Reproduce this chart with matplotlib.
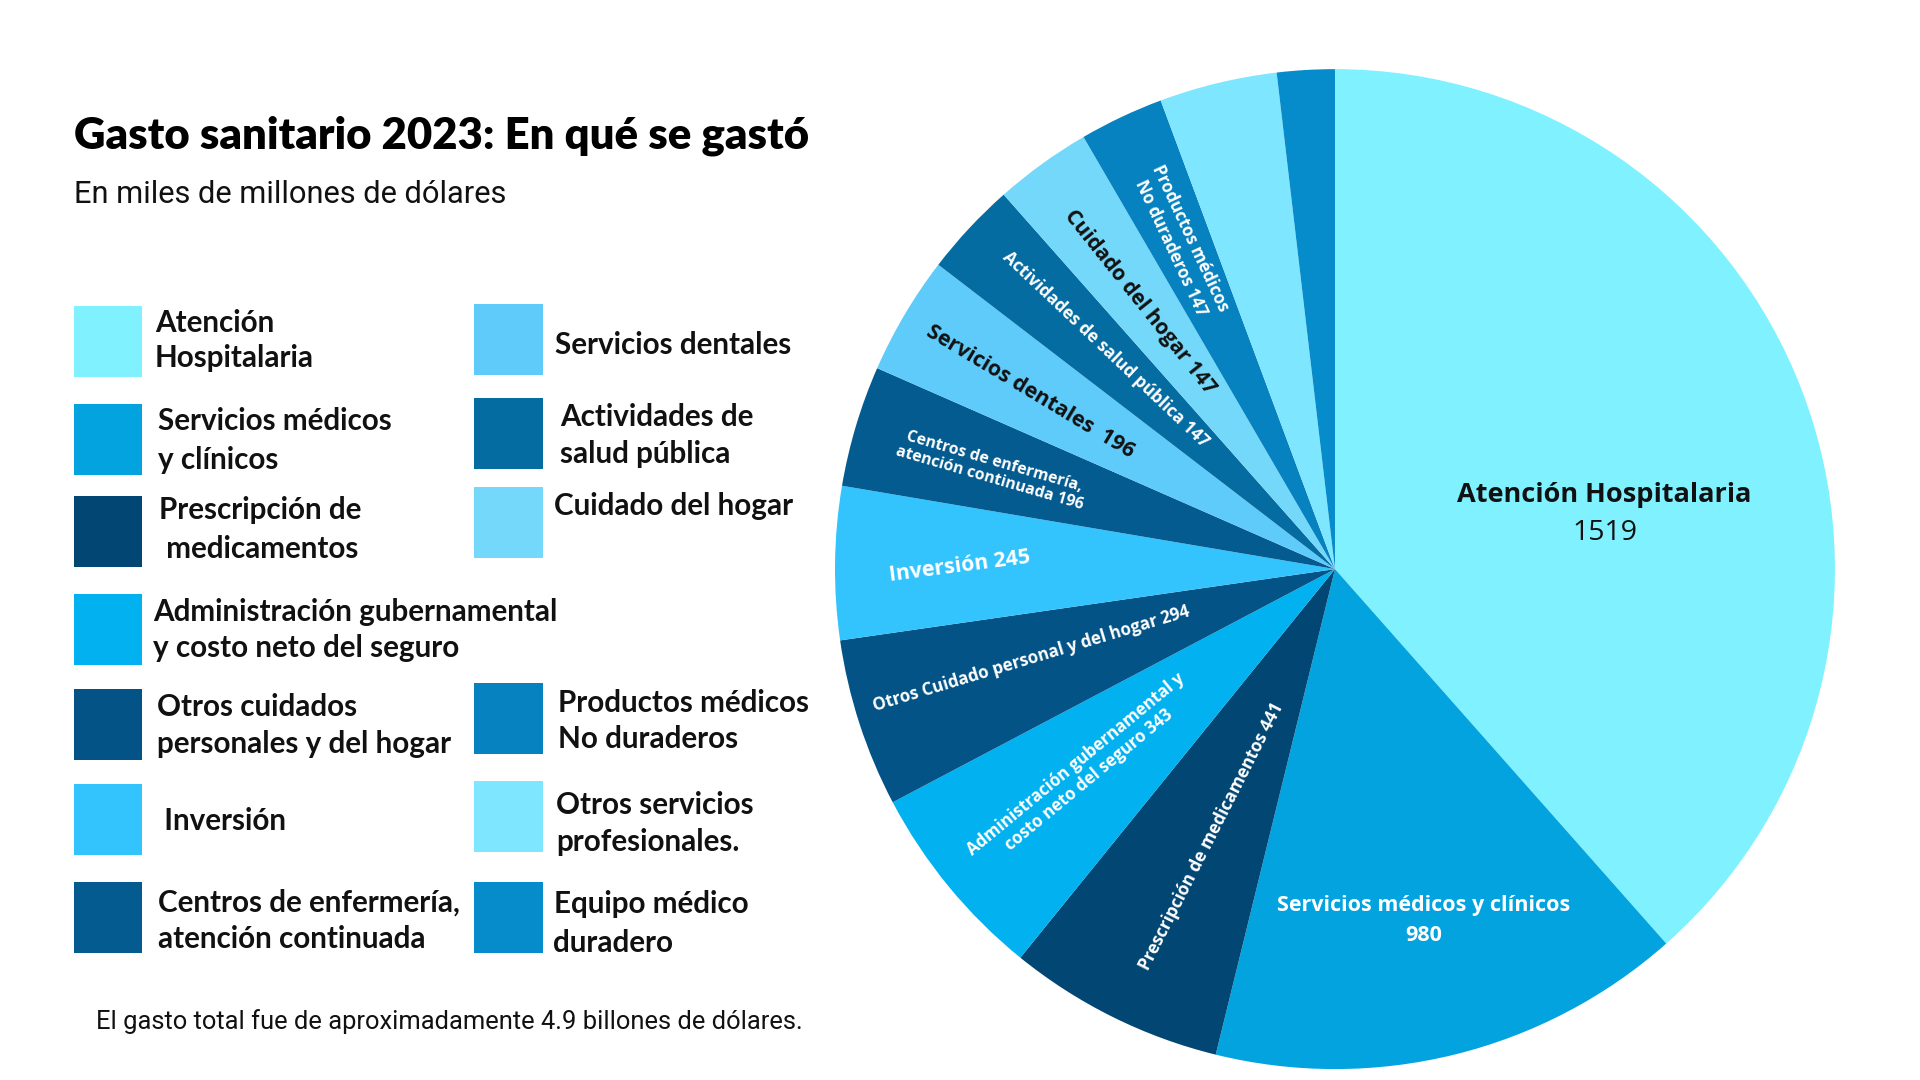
import matplotlib
matplotlib.use("Agg")
import matplotlib.pyplot as plt
from matplotlib.patches import Rectangle

# categorias na ordem do pie (horario a partir do topo)
categorias = ["Atención Hospitalaria", "Servicios médicos y clínicos",
              "Prescripción de medicamentos", "Administración gubernamental",
              "Otros cuidados personales", "Inversión", "Centros de enfermería",
              "Servicios dentales", "Actividades de salud pública",
              "Cuidado del hogar", "Productos médicos no duraderos",
              "Otros servicios profesionales", "Equipo médico duradero"]
valores = [1519, 980, 441, 343, 294, 245, 196, 196, 147, 147, 147, None, None]
# tamanho das fatias em graus (o original nao e proporcional)
fatias_graus = [138.5, 55.3, 25.2, 23.2, 19.6, 17.8, 14.1, 13.8, 11.0, 11.3, 9.8, 13.7, 6.7]
cores = ["#7ff1ff", "#03a3e0", "#024673", "#02b2f0", "#035386", "#33c3fd",
         "#045b8f", "#5ecbfb", "#056ca2", "#74d8fb", "#0582bf", "#7fe6ff", "#068bcb"]

titulo = "Gasto sanitario 2023: En qué se gastó"
subtitulo = "En miles de millones de dólares"
nota = "El gasto total fue de aproximadamente 4.9 billones de dólares."

# legenda: (indice da categoria, linhas)
leg_esq = [(0, ["Atención", "Hospitalaria"]),
           (1, ["Servicios médicos", "y clínicos"]),
           (2, ["Prescripción de", " medicamentos"]),
           (3, ["Administración gubernamental", "y costo neto del seguro"]),
           (4, ["Otros cuidados", "personales y del hogar"]),
           (5, [" Inversión"]),
           (6, ["Centros de enfermería,", "atención continuada"])]
leg_dir = [(7, ["Servicios dentales"]),
           (8, ["Actividades de", "salud pública"]),
           (9, ["Cuidado del hogar"]),
           (10, ["Productos médicos", "No duraderos"]),
           (11, ["Otros servicios", "profesionales."]),
           (12, ["Equipo médico", "duradero"])]

FONTE_LEG = ["Lato", "DejaVu Sans"]
FONTE_PIE = ["Open Sans", "DejaVu Sans"]
FONTE_TXT = ["Roboto", "DejaVu Sans"]

fig = plt.figure(figsize=(19.2, 10.8), dpi=100)

# ---- pie ----
ax = fig.add_axes([0.4349, 0.0101, 0.5208, 0.9259])
ax.pie(fatias_graus, colors=cores, startangle=90, counterclock=False,
       radius=1.0, wedgeprops=dict(linewidth=0))
ax.set_xlim(-1, 1)
ax.set_ylim(-1, 1)
ax.set_aspect("equal")
ax.axis("off")

def rot_txt(x, y, s, rot, size, cor="white", peso="bold", ls=1.15):
    ax.text(x, y, s, rotation=rot, rotation_mode="anchor", ha="center",
            va="center", fontsize=size, color=cor, fontweight=peso,
            family=FONTE_PIE, linespacing=ls, multialignment="center")

rot_txt(0.538, 0.148, categorias[0], 0, 19.5, cor="#111111")
rot_txt(0.54, 0.072, str(valores[0]), 0, 20.5, cor="#111111", peso="normal")
rot_txt(0.177, -0.703, "Servicios médicos y clínicos\n%d" % valores[1], 0, 15.5, ls=1.55)
rot_txt(-0.246, -0.534, "Prescripción de medicamentos %d" % valores[2], 63, 12.4)
rot_txt(-0.505, -0.405, "Administración gubernamental y\ncosto neto del seguro %d" % valores[3], 39.5, 12.1)
rot_txt(-0.608, -0.18, "Otros Cuidado personal y del hogar %d" % valores[4], 16.8, 12.2)
rot_txt(-0.75, 0.006, "Inversión %d" % valores[5], 7.4, 15.4)
rot_txt(-0.686, 0.198, "Centros de enfermería,\natención continuada %d" % valores[6], -16.2, 11.3)
rot_txt(-0.61, 0.354, "Servicios dentales  %d" % valores[7], -31, 15.3, cor="#111111")
rot_txt(-0.458, 0.44, "Actividades de salud pública %d" % valores[8], -43.4, 12.3)
rot_txt(-0.39, 0.534, "Cuidado del hogar %d" % valores[9], -51.4, 15, cor="#111111")
rot_txt(-0.308, 0.652, "Productos médicos\nNo duraderos %d" % valores[10], -65, 12.2, ls=1.25)

# ---- camada em pixels para titulo e legenda ----
ov = fig.add_axes([0, 0, 1, 1], zorder=-1)
ov.set_xlim(0, 1920)
ov.set_ylim(1080, 0)
ov.axis("off")

ov.text(74, 136, titulo, fontsize=31.4, fontweight="heavy", family=["Lato", "DejaVu Sans"],
        va="center", ha="left", color="black")
ov.text(74, 194.5, subtitulo, fontsize=22.2, family=FONTE_TXT,
        va="center", ha="left", color="#111111")
ov.text(95.5, 1021.5, nota, fontsize=18.4, family=FONTE_TXT,
        va="center", ha="left", color="#111111")

# posicoes da legenda: (topo do quadrado, y das linhas, x do texto)
pos_esq = [(306, [320, 356], 155), (404, [419, 457], 158), (496, [508, 546], 159),
           (594, [609, 645], 153), (689, [704, 741], 157), (784, [819], 157),
           (882, [900, 937], 158)]
pos_dir = [(304, [343], 555), (398, [415, 452], 560), (487, [503], 553.5),
           (683, [700, 737], 558), (781, [802, 839], 556), (882, [902, 940], 553.5)]

def legenda(itens, posicoes, x_quad):
    for (idx, linhas), (topo, ys, xt) in zip(itens, posicoes):
        ov.add_patch(Rectangle((x_quad, topo), 68.5, 71, facecolor=cores[idx],
                               edgecolor="none"))
        for linha, y in zip(linhas, ys):
            ov.text(xt, y + 2.5, linha, fontsize=21.3, fontweight="bold", family=FONTE_LEG,
                    va="center", ha="left", color="#111111")

legenda(leg_esq, pos_esq, 73.5)
legenda(leg_dir, pos_dir, 474)

fig.savefig("out.png", dpi=100, facecolor="white")
